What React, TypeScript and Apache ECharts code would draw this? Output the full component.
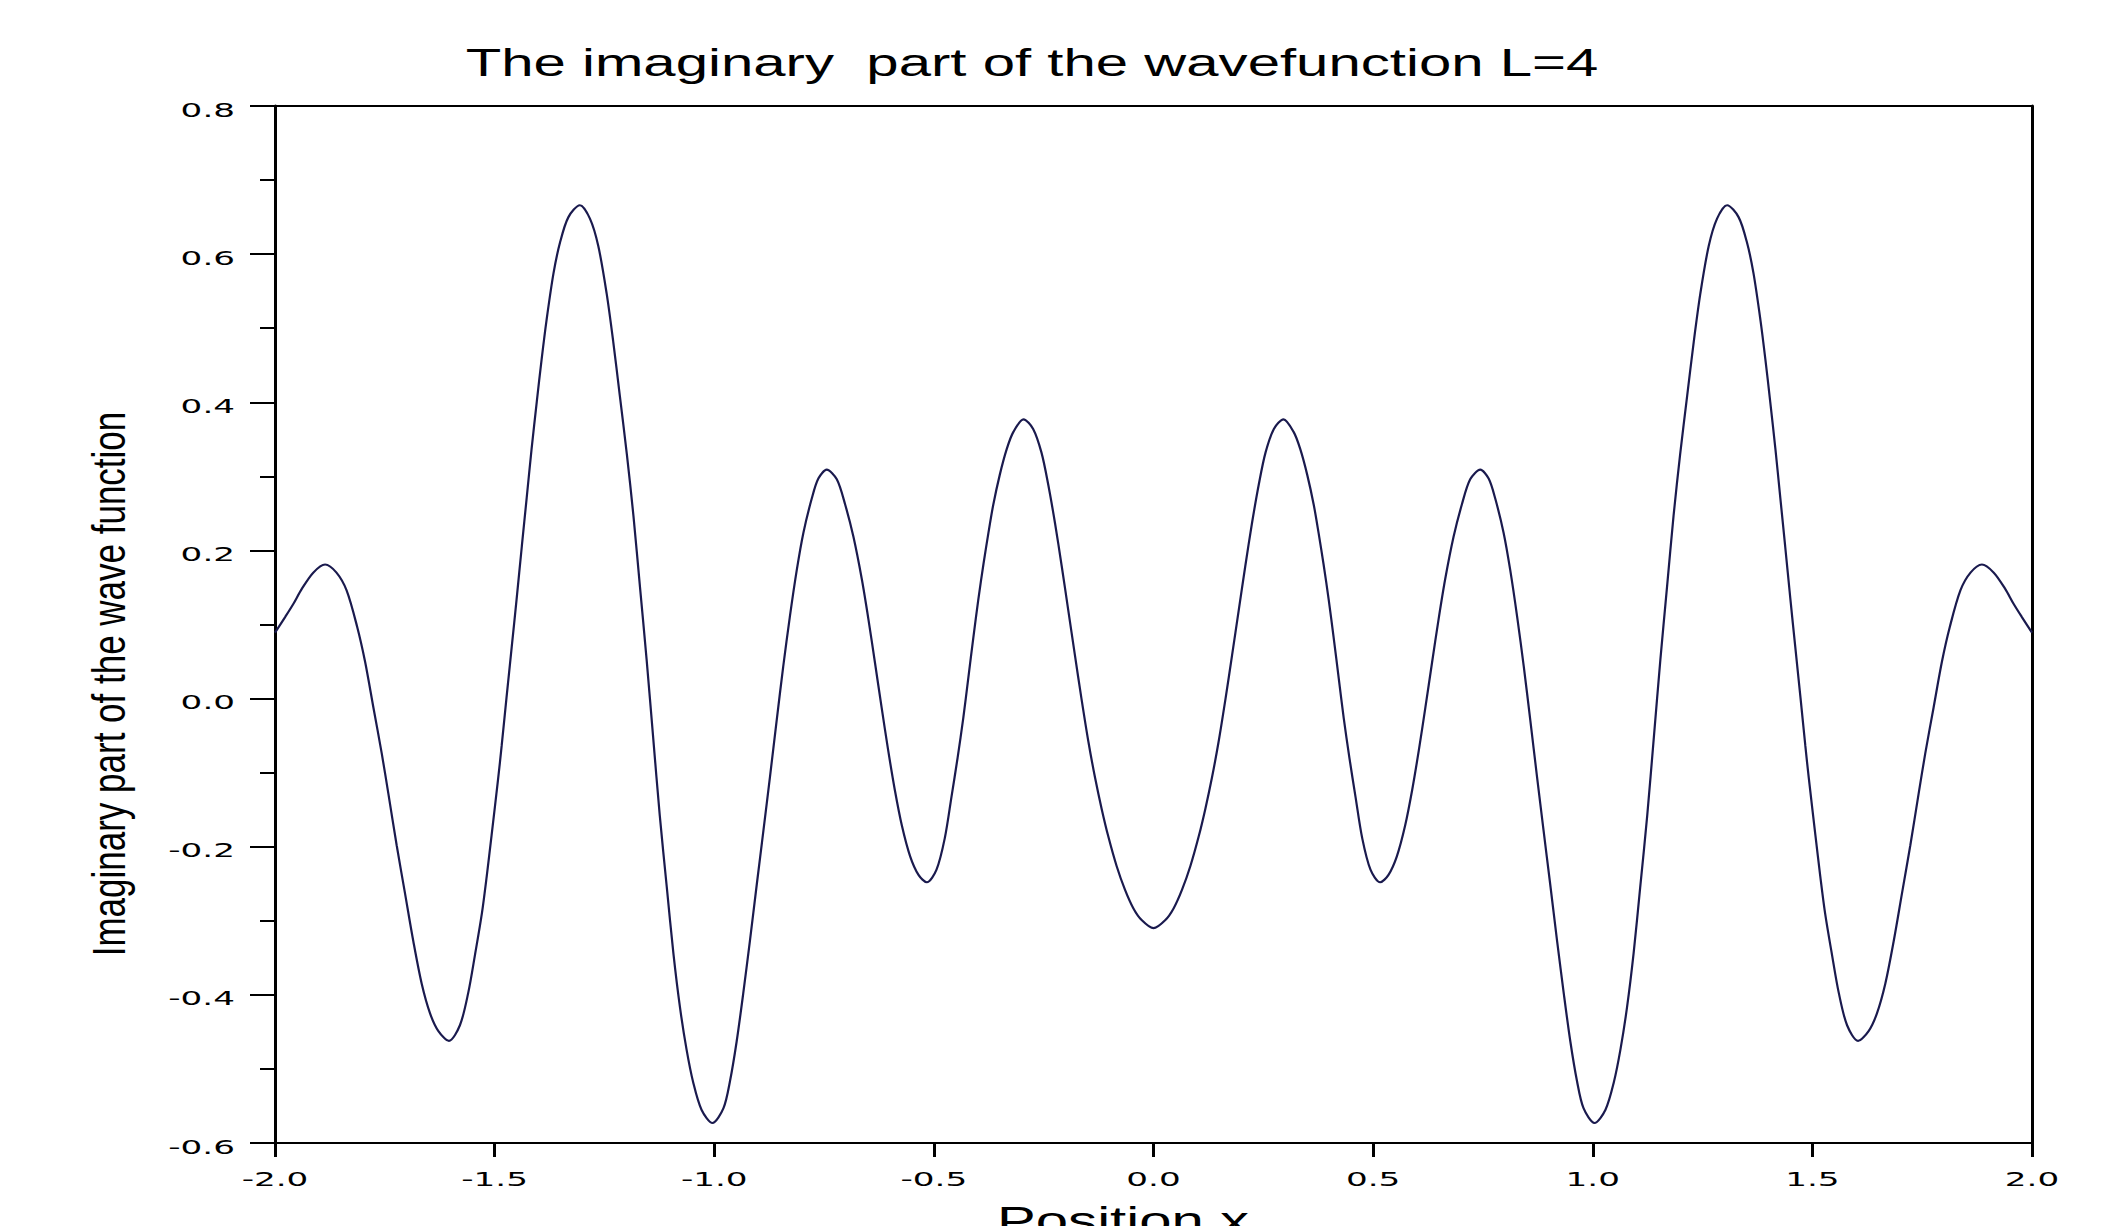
import React, { useEffect, useRef } from 'react';
import * as echarts from 'echarts';

const TITLE = 'The imaginary  part of the wavefunction L=4';
const X_NAME = 'Position x';
const Y_NAME = 'Imaginary part of the wave function';

const X_TICKS = [-2, -1.5, -1, -0.5, 0, 0.5, 1, 1.5, 2];
const X_TICK_LABELS = ['-2.0', '-1.5', '-1.0', '-0.5', '0.0', '0.5', '1.0', '1.5', '2.0'];
const Y_TICKS = [-0.6, -0.4, -0.2, 0, 0.2, 0.4, 0.6, 0.8];
const Y_TICK_LABELS = ['-0.6', '-0.4', '-0.2', '0.0', '0.2', '0.4', '0.6', '0.8'];

const LEFT_BRANCH: [number, number][] = [
  [-2.0, 0.089], [-1.977, 0.110], [-1.958, 0.128], [-1.939, 0.148], [-1.913, 0.170],
  [-1.886, 0.181], [-1.86, 0.170], [-1.837, 0.146], [-1.813, 0.097], [-1.795, 0.050],
  [-1.776, -0.012], [-1.757, -0.074], [-1.742, -0.128], [-1.723, -0.198], [-1.704, -0.263],
  [-1.685, -0.328], [-1.666, -0.385], [-1.647, -0.425], [-1.628, -0.449], [-1.604, -0.462],
  [-1.579, -0.441], [-1.56, -0.397], [-1.545, -0.347], [-1.529, -0.290], [-1.518, -0.240],
  [-1.507, -0.185], [-1.492, -0.108], [-1.484, -0.064], [-1.473, 0.001], [-1.461, 0.070],
  [-1.45, 0.134], [-1.438, 0.206], [-1.427, 0.271], [-1.416, 0.336], [-1.404, 0.401],
  [-1.393, 0.458], [-1.382, 0.51], [-1.366, 0.574], [-1.351, 0.616], [-1.332, 0.650],
  [-1.306, 0.666], [-1.283, 0.648], [-1.264, 0.611], [-1.245, 0.547], [-1.23, 0.482],
  [-1.215, 0.409], [-1.199, 0.330], [-1.184, 0.247], [-1.169, 0.15], [-1.154, 0.053],
  [-1.139, -0.053], [-1.124, -0.158], [-1.108, -0.255], [-1.093, -0.344], [-1.078, -0.417],
  [-1.063, -0.474], [-1.048, -0.518], [-1.029, -0.555], [-1.004, -0.573], [-0.979, -0.553],
  [-0.964, -0.516], [-0.949, -0.463], [-0.934, -0.398], [-0.919, -0.328], [-0.903, -0.250],
  [-0.888, -0.178], [-0.873, -0.105], [-0.858, -0.030], [-0.843, 0.043], [-0.828, 0.110],
  [-0.812, 0.174], [-0.797, 0.224], [-0.778, 0.270], [-0.763, 0.297], [-0.744, 0.309],
  [-0.721, 0.296], [-0.702, 0.262], [-0.683, 0.218], [-0.664, 0.161], [-0.649, 0.107],
  [-0.634, 0.048], [-0.619, -0.012], [-0.604, -0.070], [-0.589, -0.123], [-0.573, -0.171],
  [-0.554, -0.213], [-0.535, -0.238], [-0.516, -0.248], [-0.494, -0.231], [-0.475, -0.188],
  [-0.46, -0.133], [-0.446, -0.080], [-0.433, -0.026], [-0.422, 0.026], [-0.41, 0.083],
  [-0.399, 0.133], [-0.387, 0.182], [-0.376, 0.223], [-0.365, 0.261], [-0.35, 0.302],
  [-0.334, 0.337], [-0.319, 0.360], [-0.296, 0.377], [-0.274, 0.364], [-0.255, 0.332],
  [-0.24, 0.290], [-0.224, 0.236], [-0.209, 0.179], [-0.194, 0.119], [-0.179, 0.059],
  [-0.164, 0.000], [-0.148, -0.059], [-0.133, -0.107], [-0.118, -0.149], [-0.103, -0.186],
  [-0.084, -0.226], [-0.065, -0.258], [-0.046, -0.283], [-0.027, -0.299], [0.0, -0.310],
];

const RIGHT_BRANCH: [number, number][] = [
  [0.027, -0.299], [0.046, -0.283], [0.065, -0.258], [0.084, -0.226], [0.103, -0.186],
  [0.118, -0.149], [0.133, -0.107], [0.148, -0.059], [0.164, 0.000], [0.179, 0.059],
  [0.194, 0.119], [0.209, 0.179], [0.224, 0.236], [0.24, 0.290], [0.255, 0.332],
  [0.274, 0.364], [0.296, 0.377], [0.319, 0.360], [0.334, 0.337], [0.35, 0.302],
  [0.365, 0.261], [0.376, 0.223], [0.387, 0.182], [0.399, 0.133], [0.41, 0.083],
  [0.422, 0.026], [0.433, -0.026], [0.446, -0.080], [0.46, -0.133], [0.475, -0.188],
  [0.494, -0.231], [0.516, -0.248], [0.535, -0.238], [0.554, -0.213], [0.573, -0.171],
  [0.589, -0.123], [0.604, -0.070], [0.619, -0.012], [0.634, 0.048], [0.649, 0.107],
  [0.664, 0.161], [0.683, 0.218], [0.702, 0.262], [0.721, 0.296], [0.744, 0.309],
  [0.763, 0.297], [0.778, 0.270], [0.797, 0.224], [0.812, 0.174], [0.828, 0.110],
  [0.843, 0.043], [0.858, -0.030], [0.873, -0.105], [0.888, -0.178], [0.903, -0.250],
  [0.919, -0.328], [0.934, -0.398], [0.949, -0.463], [0.964, -0.516], [0.979, -0.553],
  [1.004, -0.573], [1.029, -0.555], [1.048, -0.518], [1.063, -0.474], [1.078, -0.417],
  [1.093, -0.344], [1.108, -0.255], [1.124, -0.158], [1.139, -0.053], [1.154, 0.053],
  [1.169, 0.15], [1.184, 0.247], [1.199, 0.330], [1.215, 0.409], [1.23, 0.482],
  [1.245, 0.547], [1.264, 0.611], [1.283, 0.648], [1.306, 0.666], [1.332, 0.650],
  [1.351, 0.616], [1.366, 0.574], [1.382, 0.51], [1.393, 0.458], [1.404, 0.401],
  [1.416, 0.336], [1.427, 0.271], [1.438, 0.206], [1.45, 0.134], [1.461, 0.070],
  [1.473, 0.001], [1.484, -0.064], [1.492, -0.108], [1.507, -0.185], [1.518, -0.240],
  [1.529, -0.290], [1.545, -0.347], [1.56, -0.397], [1.579, -0.441], [1.604, -0.462],
  [1.628, -0.449], [1.647, -0.425], [1.666, -0.385], [1.685, -0.328], [1.704, -0.263],
  [1.723, -0.198], [1.742, -0.128], [1.757, -0.074], [1.776, -0.012], [1.795, 0.050],
  [1.813, 0.097], [1.837, 0.146], [1.86, 0.170], [1.886, 0.181], [1.913, 0.170],
  [1.939, 0.148], [1.958, 0.128], [1.977, 0.110], [2.0, 0.089],
];

export default function App() {
  const ref = useRef<HTMLDivElement>(null);

  useEffect(() => {
    if (!ref.current) return;
    const chart = echarts.init(ref.current, null, { renderer: 'svg' });
    const black = '#000000';
    chart.setOption({
      animation: false,
      backgroundColor: '#ffffff',
      grid: { left: 275, right: 72, top: 106, bottom: 83 },
      xAxis: [
        {
          type: 'value', min: -2, max: 2, interval: 0.5, position: 'bottom',
          axisLine: { show: true, onZero: false, lineStyle: { color: black, width: 2 } },
          axisTick: { show: true, length: 14, lineStyle: { color: black, width: 3 } },
          axisLabel: { show: false }, splitLine: { show: false },
        },
        {
          type: 'value', min: -2, max: 2, interval: 0.5, position: 'top',
          axisLine: { show: true, onZero: false, lineStyle: { color: black, width: 2 } },
          axisTick: { show: false }, axisLabel: { show: false }, splitLine: { show: false },
        },
      ],
      yAxis: [
        {
          type: 'value', min: -0.6, max: 0.8, interval: 0.2, position: 'left',
          axisLine: { show: true, onZero: false, lineStyle: { color: black, width: 3 } },
          axisTick: { show: true, length: 25, lineStyle: { color: black, width: 2 } },
          minorTick: { show: true, splitNumber: 2, length: 15, lineStyle: { color: black, width: 2 } },
          axisLabel: { show: false }, splitLine: { show: false }, minorSplitLine: { show: false },
        },
        {
          type: 'value', min: -0.6, max: 0.8, interval: 0.2, position: 'right',
          axisLine: { show: true, onZero: false, lineStyle: { color: black, width: 3 } },
          axisTick: { show: false }, axisLabel: { show: false }, splitLine: { show: false },
        },
      ],
      series: [
        {
          type: 'line', xAxisIndex: 0, yAxisIndex: 0,
          data: [...LEFT_BRANCH, ...RIGHT_BRANCH],
          showSymbol: false, smooth: 0.3,
          lineStyle: { color: '#1a1a4e', width: 2.2 },
          silent: true,
        },
      ],
    });

    const tickFont = '19px "DejaVu Sans"';
    const graphics: any[] = [];
    X_TICKS.forEach((v, i) => {
      const px = chart.convertToPixel({ xAxisIndex: 0 }, v) as number;
      graphics.push({
        type: 'text', x: px, y: 1179, scaleX: 1.8,
        style: { text: X_TICK_LABELS[i], font: tickFont, fill: black, align: 'center', verticalAlign: 'middle' },
      });
    });
    Y_TICKS.forEach((v, i) => {
      const py = chart.convertToPixel({ yAxisIndex: 0 }, v) as number;
      graphics.push({
        type: 'text', x: 235, y: py + 4, scaleX: 1.8,
        style: { text: Y_TICK_LABELS[i], font: tickFont, fill: black, align: 'right', verticalAlign: 'middle' },
      });
    });
    graphics.push({
      type: 'text', x: 1032, y: 63, scaleX: 1.53,
      style: { text: TITLE, font: '38px "Liberation Sans"', fill: black, align: 'center', verticalAlign: 'middle' },
    });
    graphics.push({
      type: 'text', x: 1123, y: 1221, scaleX: 1.53,
      style: { text: X_NAME, font: '38px "Liberation Sans"', fill: black, align: 'center', verticalAlign: 'middle' },
    });
    graphics.push({
      type: 'text', x: 109, y: 684, rotation: Math.PI / 2, scaleY: 1.3,
      style: { text: Y_NAME, font: '35px "Liberation Sans"', fill: black, align: 'center', verticalAlign: 'middle' },
    });
    chart.setOption({ graphic: graphics });

    return () => chart.dispose();
  }, []);

  return (
    <div
      ref={ref}
      style={{ position: 'fixed', left: 0, top: 0, width: 2104, height: 1226, background: '#fff' }}
    />
  );
}
